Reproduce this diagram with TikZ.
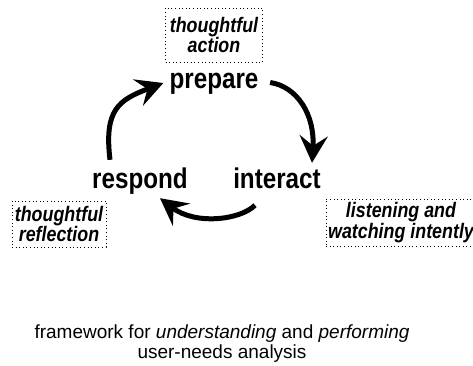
\documentclass[tikz,border=0pt]{standalone}
\usepackage{fontspec}
\setmainfont{Liberation Sans}
\newfontfamily\labelfont[FakeStretch=0.85]{Liberation Sans}
\usetikzlibrary{arrows.meta,positioning}

\tikzset{
  stage/.style={inner sep=0pt,text height=20pt,text depth=7pt,
    font=\labelfont\bfseries\fontsize{28.5}{30}\selectfont},
  notebox/.style={draw,line width=1pt,dash pattern=on 1pt off 2.6pt,
    align=center,inner sep=0pt,font=\labelfont\bfseries\itshape\fontsize{21}{20.5}\selectfont},
  flow/.style={line width=5pt,-{Stealth[length=27pt,width=28pt,inset=10pt]}},
  caption/.style={align=center,font=\fontsize{19}{20}\selectfont}
}

\begin{document}
\begin{tikzpicture}[x=1pt,y=-1pt,on grid,auto]
\clip (0,0) rectangle (473,365);
\node[stage] (prepare) at (214,81.5) {prepare};
\node[stage] (interact) [below right = 100pt and 63pt of prepare] {interact};
\node[stage] (respond) [left = 137pt of interact] {respond};
\node[notebox,minimum width=97pt,minimum height=54pt] (action) [above = 46.5pt of prepare] {thoughtful\\action};
\node[notebox,minimum width=94pt,minimum height=46pt] (reflection) [below left = 42.5pt and 81pt of respond] {thoughtful\\reflection};
\node[notebox,minimum width=150pt,minimum height=47pt] (listening) [below right = 41pt and 124pt of interact] {listening and\\watching intently};
\node[caption] (caption) at (222,344) {framework for \textit{understanding} and \textit{performing}\\user-needs analysis};
% the cycle
\draw[flow] ([xshift=11.5pt,yshift=-1pt]prepare.east) .. controls +(27,4) and +(3,-48) .. ([xshift=35pt,yshift=5pt]interact.north);
\draw[flow] ([xshift=-22pt,yshift=-10pt]interact.south) .. controls +(-15,15) and +(35,27) .. ([xshift=20pt,yshift=-3pt]respond.south);
\draw[flow] ([xshift=-30pt,yshift=8pt]respond.north) .. controls +(-6,-50) and +(-45,17) .. ([xshift=-6pt,yshift=-1.5pt]prepare.west);
\end{tikzpicture}
\end{document}
